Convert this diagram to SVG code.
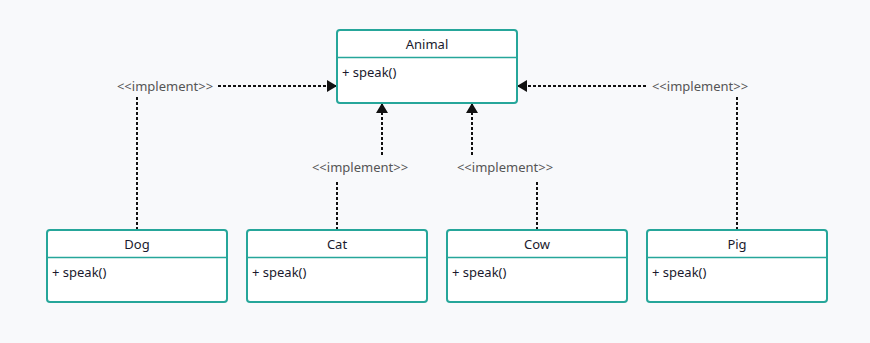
<svg xmlns="http://www.w3.org/2000/svg" width="870" height="343" viewBox="0 0 870 343">
<defs>
<marker id="tri" viewBox="0 0 10 12" refX="10" refY="6" markerWidth="10" markerHeight="12" markerUnits="userSpaceOnUse" orient="auto">
<path d="M0,0 L10,6 L0,12 Z" fill="#111"/>
</marker>
</defs>
<style>
.box{fill:#fff;stroke:#26a69a;stroke-width:2}
.sep{stroke:#26a69a;stroke-width:1.5}
.title{font-family:"Noto Sans",sans-serif;font-size:13px;fill:#1a1a2e;text-anchor:middle}
.attr{font-family:"Noto Sans",sans-serif;font-size:13px;fill:#1a1a2e}
.edge{fill:none;stroke:#111;stroke-width:2;stroke-dasharray:3,2}
.lbl{font-family:"Noto Sans",sans-serif;font-size:13px;fill:#555;text-anchor:middle}
</style>
<rect width="870" height="343" fill="#f8f9fb"/>
<g id="connectors">
<path class="edge" d="M137,230 V97"/>
<path class="edge" d="M218,86 H337" marker-end="url(#tri)"/>
<text class="lbl" x="165" y="90.5">&lt;&lt;implement&gt;&gt;</text>
<path class="edge" d="M337,230 V180"/>
<path class="edge" d="M382,155 V103" marker-end="url(#tri)"/>
<text class="lbl" x="360" y="172">&lt;&lt;implement&gt;&gt;</text>
<path class="edge" d="M537,230 V180"/>
<path class="edge" d="M472,155 V103" marker-end="url(#tri)"/>
<text class="lbl" x="505" y="172">&lt;&lt;implement&gt;&gt;</text>
<path class="edge" d="M737,230 V97"/>
<path class="edge" d="M646,86 H517" marker-end="url(#tri)"/>
<text class="lbl" x="700" y="90.5">&lt;&lt;implement&gt;&gt;</text>
</g>
<g id="Animal">
<rect class="box" x="337" y="30" width="180" height="73" rx="3"/>
<line class="sep" x1="337" y1="57.5" x2="517" y2="57.5"/>
<text class="title" x="427" y="48.5">Animal</text>
<text class="attr" x="342" y="76.5">+ speak()</text>
</g>
<g id="Dog">
<rect class="box" x="47" y="230" width="180" height="72" rx="3"/>
<line class="sep" x1="47" y1="257.5" x2="227" y2="257.5"/>
<text class="title" x="137" y="248.5">Dog</text>
<text class="attr" x="52" y="276.5">+ speak()</text>
</g>
<g id="Cat">
<rect class="box" x="247" y="230" width="180" height="72" rx="3"/>
<line class="sep" x1="247" y1="257.5" x2="427" y2="257.5"/>
<text class="title" x="337" y="248.5">Cat</text>
<text class="attr" x="252" y="276.5">+ speak()</text>
</g>
<g id="Cow">
<rect class="box" x="447" y="230" width="180" height="72" rx="3"/>
<line class="sep" x1="447" y1="257.5" x2="627" y2="257.5"/>
<text class="title" x="537" y="248.5">Cow</text>
<text class="attr" x="452" y="276.5">+ speak()</text>
</g>
<g id="Pig">
<rect class="box" x="647" y="230" width="180" height="72" rx="3"/>
<line class="sep" x1="647" y1="257.5" x2="827" y2="257.5"/>
<text class="title" x="737" y="248.5">Pig</text>
<text class="attr" x="652" y="276.5">+ speak()</text>
</g>
</svg>
